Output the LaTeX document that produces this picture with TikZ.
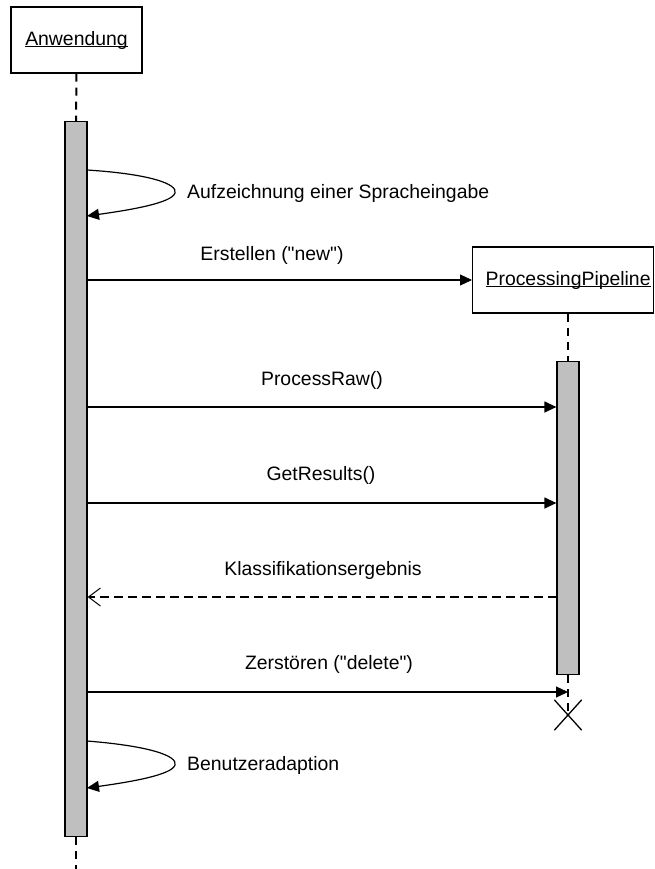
\documentclass[tikz,border=0pt]{standalone}
\usepackage{fontspec}
\setmainfont{Liberation Sans}[Ligatures=TeXOff]
\usetikzlibrary{arrows.meta,shapes.misc}
% underline that sits just under the baseline
\newcommand\objname[1]{\setbox0\hbox{#1}\rlap{\rule[-2pt]{\wd0}{1.1pt}}\box0}
\begin{document}
\begin{tikzpicture}[x=1pt,y=-1pt,
  every node/.style={font=\fontsize{19.4}{22}\selectfont},
  objbox/.style={draw,line width=1.2pt,minimum height=66pt,inner sep=0pt},
  actbar/.style={draw,line width=1.2pt,fill=black!25,minimum width=22pt,inner sep=0pt},
  lifeline/.style={line width=2pt,dash pattern=on 8pt off 6pt},
  msg/.style={line width=1.2pt,-{Triangle[length=12pt,width=11pt]}},
  reply/.style={line width=2pt,dash pattern=on 9pt off 5pt,
    -{Straight Barb[length=12pt,width=18pt,line width=1pt]}},
  lbl/.style={inner sep=0pt,anchor=center}]
\useasboundingbox (0,0) rectangle (654,869);

% objects
\node[objbox,minimum width=131pt] (app) at (76.5,40) {\objname{Anwendung}};
\node[objbox,minimum width=181pt,anchor=west] (pp) at (472,280) {\hspace{10pt}\objname{ProcessingPipeline}};

% activation bars
\node[actbar,minimum height=715pt,anchor=north] (barA) at (76,121) {};
\node[actbar,minimum height=313pt,anchor=north] (barP) at (568,361) {};

% destruction mark
\node[cross out,draw,line width=1.3pt,minimum width=26pt,minimum height=29pt,inner sep=0pt] (kill) at (568,715) {};
\coordinate (appEnd) at (76,869);

% lifelines
\draw[lifeline] (app.south) -- (barA.north);
\draw[lifeline] (barA.south) -- (appEnd);
\draw[lifeline] (barP.north |- pp.south) -- (barP.north);
\draw[lifeline] (barP.south) -- (kill.center);

% self call: recording
\coordinate (s1a) at (87,170);
\coordinate (s1b) at (87,216);
\draw[msg] (s1a) .. controls (150,174) and (178,184) .. (175,193)
  .. controls (172,203) and (130,210) .. (s1b);
\node[lbl,anchor=west] (t1) at (187,193) {Aufzeichnung einer Spracheingabe};

% create
\draw[msg] (barA.east |- pp.west) -- (pp.west);
\node[lbl] (t2) at (272,255) {Erstellen ("new")};

% process raw
\coordinate (m3a) at (87,407);
\draw[msg] (m3a) -- (barP.west |- m3a);
\node[lbl] (t3) at (322,380) {ProcessRaw()};

% get results
\coordinate (m4a) at (87,503);
\draw[msg] (m4a) -- (barP.west |- m4a);
\node[lbl] (t4) at (321,475) {GetResults()};

% result reply
\coordinate (m5a) at (557,597);
\draw[reply] (m5a) -- (barA.east |- m5a);
\node[lbl] (t5) at (323,570) {Klassifikationsergebnis};

% destroy
\coordinate (m6a) at (87,692);
\draw[msg] (m6a) -- (barP.center |- m6a);
\node[lbl] (t6) at (329,664) {Zerstören ("delete")};

% self call: user adaptation
\coordinate (s2a) at (87,741);
\coordinate (s2b) at (87,788);
\draw[msg] (s2a) .. controls (150,746) and (178,756) .. (175,765)
  .. controls (172,775) and (130,782) .. (s2b);
\node[lbl,anchor=west] (t7) at (187,765) {Benutzeradaption};
\end{tikzpicture}
\end{document}
